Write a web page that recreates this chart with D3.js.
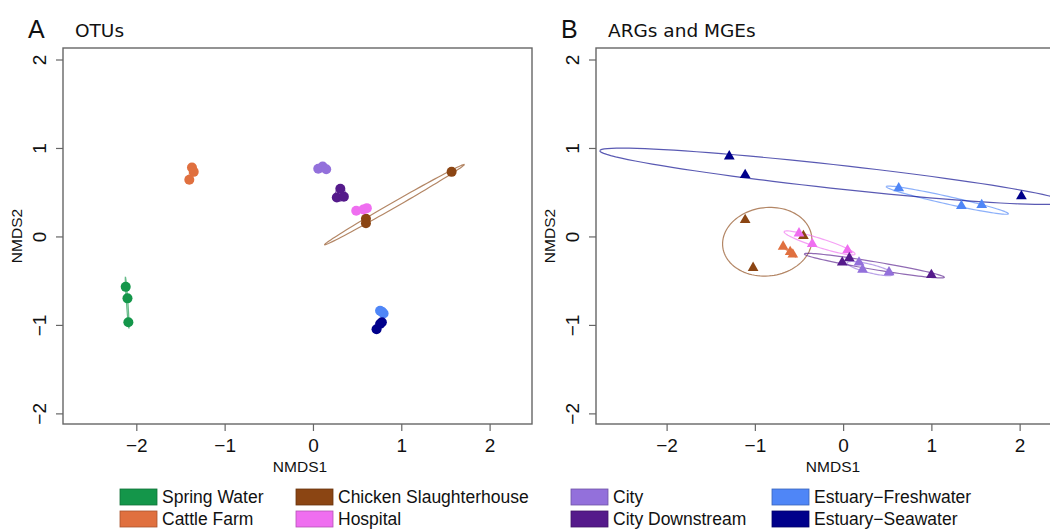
<!DOCTYPE html>
<html>
<head>
<meta charset="utf-8">
<script src="https://cdn.jsdelivr.net/npm/d3@7"></script>
<style>
  body { margin: 0; background: #fff; }
  svg { display: block; }
  text { font-family: "Liberation Sans", Arial, sans-serif; fill: #111; }
</style>
</head>
<body>
<div id="chart"></div>
<script>
// Groups and colours (shared legend across both panels)
var groups = ["Spring Water", "Cattle Farm", "Chicken Slaughterhouse", "Hospital",
              "City", "City Downstream", "Estuary\u2212Freshwater", "Estuary\u2212Seawater"];
var groupColors = ["#14964a", "#e0703f", "#8b4513", "#ef6ef0",
                   "#9370db", "#551a8b", "#4f86f7", "#00008b"];

// Panel A: OTUs (group index, NMDS1, NMDS2)
var otuGroup = [0,0,0, 1,1,1, 2,2,2, 3,3,3, 4,4,4, 5,5,5, 6,6,6, 7,7,7];
var otuX = [-2.12,-2.10,-2.09, -1.37,-1.35,-1.40, 0.60,0.60,1.57, 0.49,0.57,0.61,
            0.06,0.11,0.15, 0.31,0.27,0.35, 0.76,0.80,0.78, 0.72,0.76,0.78];
var otuY = [-0.57,-0.70,-0.97, 0.78,0.73,0.64, 0.20,0.15,0.73, 0.29,0.305,0.32,
            0.765,0.79,0.76, 0.54,0.44,0.45, -0.84,-0.87,-0.85, -1.05,-0.99,-0.97];

// Panel B: ARGs and MGEs
var argGroup = [1,1,1, 2,2,2, 3,3,3, 4,4,4, 5,5,5, 6,6,6, 7,7,7];
var argX = [-0.68,-0.60,-0.57, -1.11,-0.45,-1.02, -0.50,-0.35,0.05, 0.18,0.22,0.52,
            -0.01,0.07,1.00, 0.63,1.34,1.57, -1.29,-1.11,2.02];
var argY = [-0.12,-0.18,-0.21, 0.18,0.00,-0.36, 0.03,-0.09,-0.16, -0.30,-0.38,-0.41,
            -0.30,-0.25,-0.44, 0.54,0.34,0.35, 0.90,0.69,0.45];

var tickValues = [-2, -1, 0, 1, 2];

var svg = d3.select("#chart")
  .append("svg")
  .attr("width", 1050)
  .attr("height", 529);

// 95% confidence ellipse of the group centroid (like vegan::ordiellipse kind="se")
function seEllipse(pts) {
  var n = pts.length;
  var mx = d3.mean(pts, p => p[0]), my = d3.mean(pts, p => p[1]);
  var sxx = 0, syy = 0, sxy = 0;
  pts.forEach(function(p) {
    sxx += (p[0] - mx) * (p[0] - mx);
    syy += (p[1] - my) * (p[1] - my);
    sxy += (p[0] - mx) * (p[1] - my);
  });
  sxx /= (n - 1); syy /= (n - 1); sxy /= (n - 1);
  // eigen decomposition of the 2x2 covariance
  var tr = sxx + syy, det = sxx * syy - sxy * sxy;
  var disc = Math.sqrt(Math.max(tr * tr / 4 - det, 0));
  var l1 = tr / 2 + disc, l2 = Math.max(tr / 2 - disc, 0);
  var ang = Math.atan2(l1 - sxx, sxy);
  if (Math.abs(sxy) < 1e-12) ang = sxx >= syy ? 0 : Math.PI / 2;
  var k = Math.sqrt(5.991) / Math.sqrt(n);
  var a = Math.sqrt(l1) * k, b = Math.sqrt(l2) * k;
  return d3.range(0, 101).map(function(i) {
    var t = i / 100 * 2 * Math.PI;
    var ex = a * Math.cos(t), ey = b * Math.sin(t);
    return [mx + ex * Math.cos(ang) - ey * Math.sin(ang),
            my + ex * Math.sin(ang) + ey * Math.cos(ang)];
  });
}

function drawPanel(opt) {
  var x = d3.scaleLinear().domain(opt.xDomain).range([opt.left, opt.right]);
  var y = d3.scaleLinear().domain([-2.12, 2.13]).range([424, 48]);
  var g = svg.append("g");

  g.append("clipPath").attr("id", opt.id + "clip")
    .append("rect")
    .attr("x", opt.left).attr("y", 48)
    .attr("width", opt.right - opt.left).attr("height", 376);

  var plot = g.append("g").attr("clip-path", "url(#" + opt.id + "clip)");

  // ellipses per group
  var line = d3.line().x(d => x(d[0])).y(d => y(d[1]));
  d3.range(groups.length).forEach(function(gi) {
    var pts = [];
    opt.gr.forEach(function(v, i) { if (v === gi) pts.push([opt.xs[i], opt.ys[i]]); });
    if (pts.length < 3) return;
    plot.append("path")
      .attr("d", line(seEllipse(pts)))
      .attr("fill", "none")
      .attr("stroke", groupColors[gi])
      .attr("stroke-opacity", 0.65)
      .attr("stroke-width", 1.2);
  });

  // points
  var idx = d3.range(opt.gr.length);
  if (opt.shape === "circle") {
    plot.selectAll("circle").data(idx).enter().append("circle")
      .attr("cx", i => x(opt.xs[i]))
      .attr("cy", i => y(opt.ys[i]))
      .attr("r", 5)
      .attr("fill", i => groupColors[opt.gr[i]]);
  } else {
    var tri = d3.symbol().type(d3.symbolTriangle).size(50);
    plot.selectAll("path.pt").data(idx).enter().append("path")
      .attr("class", "pt")
      .attr("d", tri)
      .attr("transform", i => "translate(" + x(opt.xs[i]) + "," + (y(opt.ys[i]) - 0.5) + ")")
      .attr("fill", i => groupColors[opt.gr[i]]);
  }

  // box
  g.append("rect")
    .attr("x", opt.left).attr("y", 48)
    .attr("width", opt.right - opt.left).attr("height", 376)
    .attr("fill", "none")
    .attr("stroke", "#666")
    .attr("stroke-width", 1.4);

  var fmt = d3.format("d");

  // x axis
  var xa = g.append("g")
    .attr("transform", "translate(0,424)")
    .call(d3.axisBottom(x).tickValues(tickValues).tickFormat(fmt).tickSize(7).tickPadding(8));
  xa.select(".domain").remove();
  xa.selectAll("line").attr("stroke", "#666").attr("stroke-width", 1.2);
  xa.selectAll("text").style("font-size", "19px").style("font-family", "Liberation Sans, Arial, sans-serif").attr("fill", "#111");

  // y axis with labels parallel to the axis
  var ya = g.append("g")
    .attr("transform", "translate(" + opt.left + ",0)")
    .call(d3.axisLeft(y).tickValues(tickValues).tickFormat(fmt).tickSize(7));
  ya.select(".domain").remove();
  ya.selectAll("line").attr("stroke", "#666").attr("stroke-width", 1.2);
  ya.selectAll("text")
    .attr("x", 0).attr("dy", "0.35em")
    .attr("transform", "translate(-24,0) rotate(-90)")
    .attr("text-anchor", "middle")
    .style("font-size", "19px")
    .style("font-family", "Liberation Sans, Arial, sans-serif")
    .attr("fill", "#111");

  // axis titles
  g.append("text")
    .attr("x", opt.left + 237).attr("y", 472)
    .attr("text-anchor", "middle")
    .style("font-size", "15.5px")
    .text("NMDS1");
  g.append("text")
    .attr("transform", "translate(" + (opt.left - 46) + ",236) rotate(-90)")
    .attr("dy", "0.35em")
    .attr("text-anchor", "middle")
    .style("font-size", "15.5px")
    .text("NMDS2");

  // panel letter and title
  g.append("text")
    .attr("x", opt.left - 35).attr("y", 38)
    .style("font-size", "25px")
    .text(opt.letter);
  g.append("text")
    .attr("x", opt.left + 12).attr("y", 37)
    .style("font-family", "DejaVu Sans, Verdana, sans-serif")
    .style("font-size", "18.5px")
    .text(opt.title);
}

drawPanel({ id: "a", letter: "A", title: "OTUs", left: 63, right: 532,
            xDomain: [-2.83, 2.48], gr: otuGroup, xs: otuX, ys: otuY, shape: "circle" });
drawPanel({ id: "b", letter: "B", title: "ARGs and MGEs", left: 596, right: 1062,
            xDomain: [-2.80, 2.48], gr: argGroup, xs: argX, ys: argY, shape: "triangle" });

// legend: two columns under each panel
var legendCols = [120, 296, 571, 772];
var legendRows = [489, 511];
var legend = svg.append("g");
groups.forEach(function(name, i) {
  var col = legendCols[Math.floor(i / 2)];
  var row = legendRows[i % 2];
  legend.append("rect")
    .attr("x", col).attr("y", row)
    .attr("width", 37).attr("height", 16)
    .attr("fill", groupColors[i])
    .attr("stroke", d3.color(groupColors[i]).darker(0.8))
    .attr("stroke-width", 0.8);
  legend.append("text")
    .attr("x", col + 42).attr("y", row + 14)
    .style("font-size", "17.5px")
    .text(name);
});
</script>
</body>
</html>
